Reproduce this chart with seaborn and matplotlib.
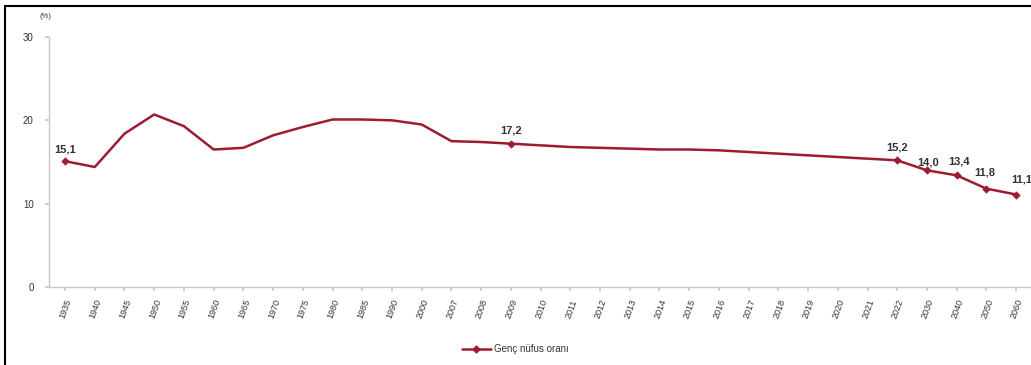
import matplotlib
matplotlib.use("Agg")
import matplotlib.pyplot as plt
from matplotlib.lines import Line2D
import seaborn as sns
import pandas as pd

years = ["1935", "1940", "1945", "1950", "1955", "1960", "1965", "1970", "1975",
         "1980", "1985", "1990", "2000", "2007", "2008", "2009", "2010", "2011",
         "2012", "2013", "2014", "2015", "2016", "2017", "2018", "2019", "2020",
         "2021", "2022", "2030", "2040", "2050", "2060"]
youth_share = [15.1, 14.4, 18.4, 20.7, 19.3, 16.5, 16.7, 18.2, 19.2,
               20.1, 20.1, 20.0, 19.5, 17.5, 17.4, 17.2, 17.0, 16.8,
               16.7, 16.6, 16.5, 16.5, 16.4, 16.2, 16.0, 15.8, 15.6,
               15.4, 15.2, 14.0, 13.4, 11.8, 11.1]
labelled_years = ["1935", "2009", "2022", "2030", "2040", "2050", "2060"]
series_name = "Genç nüfus oranı"

sns.set_theme(style="white")
plt.rcParams["font.family"] = ["Liberation Sans", "DejaVu Sans"]

line_color = "#9e1b32"
text_color = "#333333"
axis_color = "#c8c8c8"

df = pd.DataFrame({"year": years, "share": youth_share})
df["pos"] = range(len(df))

fig = plt.figure(figsize=(10.31, 3.65), dpi=100)
ax = fig.add_axes([49 / 1031, 1 - 287 / 365, (1031 - 49) / 1031, (287 - 37) / 365])

sns.lineplot(data=df, x="pos", y="share", ax=ax, color=line_color,
             linewidth=1.8, sort=False)
marked = df[df["year"].isin(labelled_years)]
sns.scatterplot(data=marked, x="pos", y="share", ax=ax, color=line_color,
                marker="D", s=14, edgecolor=line_color, linewidth=0.5, zorder=3)

# value labels (pixel offsets converted to points)
px = 0.72
offsets = {"1935": (0, 12), "2009": (0, 13), "2022": (0, 13), "2030": (1, 8),
           "2040": (2, 14), "2050": (-2, 16), "2060": (6, 15)}
for _, row in marked.iterrows():
    dx, dy = offsets[row["year"]]
    ax.annotate(f"{row['share']:.1f}".replace(".", ","), (row["pos"], row["share"]),
                xytext=(dx * px, dy * px), textcoords="offset points",
                ha="center", va="center", fontsize=8, fontweight="bold",
                color=text_color, annotation_clip=False)

ax.set_xlim(-0.54, 32.5)
ax.set_ylim(0, 30)
ax.set_yticks([0, 10, 20, 30])
ax.set_xticks(df["pos"])
ax.set_xticklabels(years, rotation=70, ha="right", rotation_mode="anchor",
                   fontsize=6.5, color=text_color)
ax.tick_params(axis="x", which="both", length=3, color=axis_color, pad=5, bottom=True)
ax.tick_params(axis="y", which="both", length=3, color=axis_color, pad=8, left=True,
               labelsize=7, labelcolor=text_color)
ax.set_xlabel("")
ax.set_ylabel("")
for side in ["top", "right"]:
    ax.spines[side].set_visible(False)
for side in ["left", "bottom"]:
    ax.spines[side].set_color(axis_color)
    ax.spines[side].set_linewidth(1.0)

fig.text(45 / 1031, 1 - 17 / 365, "(%)", fontsize=5.5, color=text_color,
         ha="center", va="center")

handle = Line2D([0], [0], color=line_color, linewidth=1.8, marker="D",
                markersize=3.5)
fig.legend([handle], [series_name], loc="center", frameon=False,
           bbox_to_anchor=(515 / 1031, 1 - 349 / 365), fontsize=7,
           handlelength=3, labelcolor=text_color, handletextpad=0.3)

# outer frame on the left and top
frame_kw = dict(color="black", linewidth=1.5, transform=fig.transFigure)
fig.add_artist(Line2D([5 / 1031, 5 / 1031], [0, 1 - 6 / 365], **frame_kw))
fig.add_artist(Line2D([5 / 1031, 1], [1 - 6 / 365, 1 - 6 / 365], **frame_kw))

fig.savefig("out.png", dpi=100)
